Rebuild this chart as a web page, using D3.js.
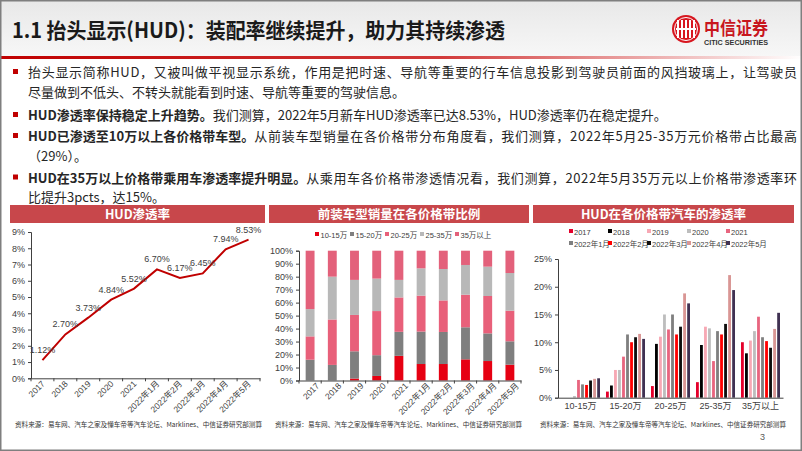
<!DOCTYPE html>
<html><head><meta charset="utf-8">
<script src="https://cdn.jsdelivr.net/npm/d3@7"></script>
<style>body{margin:0;background:#fff}svg{display:block}</style>
</head><body>
<svg id="c" width="802" height="451"></svg>
<script>
// ---------- data ----------
const periods = ["2017","2018","2019","2020","2021","2022年1月","2022年2月","2022年3月","2022年4月","2022年5月"];
const hudRate = [1.12,2.70,3.73,4.84,5.52,6.70,6.17,6.45,7.94,8.53];
const rateTicks = [0,1,2,3,4,5,6,7,8,9];

const bandKeys = ["10-15万","15-20万","20-25万","25-35万","35万以上"];
const share1015 = [0,0,1.5,3.5,19,12.7,12.7,16.3,15,12.2];
const share1520 = [16,12,21,16,18.5,25,24.7,24.7,21.3,18];
const share2025 = [18,35,28,34,26.5,27.7,24.3,25.1,28.8,23.6];
const share2535 = [21,33,27,25,13.5,21,24.2,22.9,22.6,29];
const share35p  = [45,20,22.5,21.5,22.5,13.6,14.1,11,12.3,17.2];
const shareTicks = [0,10,20,30,40,50,60,70,80,90,100];

// penetration by price band (rows: period, columns: price band)
const pen2017 = [0,1.1,2.1,2.8,10.0];
const pen2018 = [0,2.2,9.7,9.5,8.0];
const pen2019 = [0,5.0,11.0,12.8,10.3];
const pen2020 = [0.3,5.0,15.0,12.5,12.0];
const pen2021 = [3.2,7.4,12.3,6.6,14.6];
const pen2201 = [2.4,11.4,15.0,12.0,10.9];
const pen2202 = [2.3,10.0,11.4,11.4,10.2];
const pen2203 = [3.1,10.9,12.8,13.3,9.0];
const pen2204 = [3.4,11.5,18.8,22.1,12.4];
const pen2205 = [3.5,10.6,17.0,19.4,15.3];
const penTicks = [0,5,10,15,20,25];

// ---------- setup ----------
const svg = d3.select("#c");
const FONT = "'Liberation Sans','Noto Sans CJK SC',sans-serif";
const CJK = "'Noto Sans CJK SC','Liberation Sans',sans-serif";
const defs = svg.append("defs");

const hg = defs.append("linearGradient").attr("id","hg").attr("x1",0).attr("y1",0).attr("x2",0).attr("y2",1);
hg.append("stop").attr("offset",0).attr("stop-color","#e8e8e8");
hg.append("stop").attr("offset",1).attr("stop-color","#f7f7f7");
const rg = defs.append("linearGradient").attr("id","rg").attr("x1",0).attr("y1",0).attr("x2",1).attr("y2",0);
rg.append("stop").attr("offset",0).attr("stop-color","#c00000");
rg.append("stop").attr("offset",0.55).attr("stop-color","#d23a3a");
rg.append("stop").attr("offset",1).attr("stop-color","#ffffff");

// header
svg.append("rect").attr("x",0).attr("y",0).attr("width",802).attr("height",57).attr("fill","url(#hg)");
svg.append("rect").attr("x",0).attr("y",56).attr("width",802).attr("height",3).attr("fill","url(#rg)");
svg.append("text").attr("x",12).attr("y",38).attr("font-family",CJK).attr("font-weight",700)
  .attr("font-size",21).attr("fill","#1a1a1a").attr("textLength",493).attr("lengthAdjust","spacingAndGlyphs")
  .text("1.1 抬头显示(HUD)：装配率继续提升，助力其持续渗透");

// logo
const lg = svg.append("g");
lg.append("circle").attr("cx",686).attr("cy",29).attr("r",14).attr("fill","#d7161f");
[-8,-4,0,4,8].forEach(dx=>{
  lg.append("rect").attr("x",686+dx-1).attr("y",20).attr("width",2).attr("height",18).attr("fill","#fff");
});
lg.append("rect").attr("x",676).attr("y",28).attr("width",20).attr("height",2).attr("fill","#fff");
lg.append("circle").attr("cx",686).attr("cy",29).attr("r",11.5).attr("fill","none").attr("stroke","#fff").attr("stroke-width",1);
lg.append("text").attr("x",704).attr("y",35).attr("font-family",CJK).attr("font-weight",700).attr("font-size",18)
  .attr("fill","#c8161d").attr("textLength",64).attr("lengthAdjust","spacingAndGlyphs").text("中信证券");
lg.append("text").attr("x",704).attr("y",45).attr("font-family",FONT).attr("font-weight",700).attr("font-size",7)
  .attr("fill","#333").attr("textLength",64).attr("lengthAdjust","spacingAndGlyphs").text("CITIC SECURITIES");

// ---------- body text ----------
const bodyLines = [
  {y:77, bullet:true, b:"", t:"抬头显示简称HUD，又被叫做平视显示系统，作用是把时速、导航等重要的行车信息投影到驾驶员前面的风挡玻璃上，让驾驶员", w:769},
  {y:97, bullet:false, b:"", t:"尽量做到不低头、不转头就能看到时速、导航等重要的驾驶信息。"},
  {y:120, bullet:true, b:"HUD渗透率保持稳定上升趋势。", t:"我们测算，2022年5月新车HUD渗透率已达8.53%，HUD渗透率仍在稳定提升。"},
  {y:141, bullet:true, b:"HUD已渗透至10万以上各价格带车型。", t:"从前装车型销量在各价格带分布角度看，我们测算，2022年5月25-35万元价格带占比最高", w:769},
  {y:161, bullet:false, b:"", t:"（29%）。"},
  {y:182.5, bullet:true, b:"HUD在35万以上价格带乘用车渗透率提升明显。", t:"从乘用车各价格带渗透情况看，我们测算，2022年5月35万元以上价格带渗透率环", w:769},
  {y:201.5, bullet:false, b:"", t:"比提升3pcts，达15%。"}
];
bodyLines.forEach(l=>{
  if(l.bullet) svg.append("rect").attr("x",13).attr("y",l.y-8).attr("width",5).attr("height",5).attr("fill","#c00000");
  let x = 28;
  if(l.b){
    const tb = svg.append("text").attr("x",x).attr("y",l.y).attr("font-family",CJK).attr("font-size",13)
      .attr("font-weight",700).attr("fill","#262626").text(l.b);
    x += tb.node().getComputedTextLength();
  }
  const t = svg.append("text").attr("x",x).attr("y",l.y).attr("font-family",CJK).attr("font-size",13).attr("fill","#262626").text(l.t);
  if(l.w) t.attr("textLength",28+l.w-x).attr("lengthAdjust","spacing");
});

// ---------- chart title bars ----------
const titles = [
  {x0:10,x1:265,t:"HUD渗透率"},
  {x0:269,x1:529,t:"前装车型销量在各价格带比例"},
  {x0:533,x1:794,t:"HUD在各价格带汽车的渗透率"}
];
titles.forEach(d=>{
  svg.append("rect").attr("x",d.x0).attr("y",205).attr("width",d.x1-d.x0).attr("height",18).attr("fill","#c8474b");
  svg.append("text").attr("x",(d.x0+d.x1)/2).attr("y",218.5).attr("text-anchor","middle").attr("font-family",CJK)
    .attr("font-weight",700).attr("font-size",12.5).attr("fill","#fff").text(d.t);
});

function styleAxis(g){
  g.selectAll(".domain").attr("stroke","#404040");
  g.selectAll(".tick line").attr("stroke","#404040");
  g.selectAll("text").attr("font-family",FONT).attr("font-size",9).attr("fill","#404040");
}
function rotatedLabels(scale, y){
  const g = svg.append("g");
  scale.domain().forEach(d=>{
    g.append("text").attr("transform",`translate(${scale(d)+scale.step()/2+3},${y+6}) rotate(-45)`)
      .attr("text-anchor","end").attr("font-family",FONT).attr("font-size",8.5).attr("fill","#404040").text(d);
  });
}
function bandTicks(scale, y){
  const pos = scale.domain().map(d=>scale(d)-scale.step()*scale.paddingInner()/2);
  pos.push(scale.range()[1]);
  svg.append("g").selectAll("line").data(pos).join("line")
    .attr("x1",d=>d).attr("x2",d=>d).attr("y1",y).attr("y2",y+3).attr("stroke","#404040");
}

// ---------- chart 1: HUD penetration line ----------
{
  const x = d3.scaleBand().domain(periods).range([31,260]);
  const y = d3.scaleLinear().domain([0,9]).range([378.3,232]);
  const ga = svg.append("g").attr("transform","translate(31,0)")
    .call(d3.axisLeft(y).tickValues(rateTicks).tickFormat(d=>d+"%").tickSizeOuter(0).tickSize(3));
  styleAxis(ga);
  const gb = svg.append("g").attr("transform","translate(0,378.3)").call(d3.axisBottom(x).tickSize(0).tickFormat(""));
  styleAxis(gb);
  bandTicks(x,378.3);
  rotatedLabels(x,378.3);
  const pts = periods.map((p,i)=>({x:x(p)+x.bandwidth()/2, y:y(hudRate[i]), v:hudRate[i]}));
  svg.append("path").datum(pts).attr("fill","none").attr("stroke","#c00000").attr("stroke-width",2)
    .attr("d",d3.line().x(d=>d.x).y(d=>d.y));
  svg.append("g").selectAll("text").data(pts).join("text")
    .attr("x",d=>d.x).attr("y",d=>d.y-7).attr("text-anchor","middle").attr("font-family",FONT)
    .attr("font-size",9).attr("fill","#404040").text(d=>d.v.toFixed(2)+"%");
}

// ---------- chart 2: stacked share ----------
{
  const colors = ["#e60012","#7f7f7f","#e8607a","#b8b8b8","#e3617b"];
  const rows = periods.map((p,i)=>({p, "10-15万":share1015[i],"15-20万":share1520[i],"20-25万":share2025[i],"25-35万":share2535[i],"35万以上":share35p[i]}));
  const series = d3.stack().keys(bandKeys)(rows);
  const x = d3.scaleBand().domain(periods).range([299,521]).paddingInner(0.6).paddingOuter(0.3);
  const y = d3.scaleLinear().domain([0,100]).range([380.5,250.7]);
  svg.append("g").selectAll("g").data(series).join("g").attr("fill",(d,i)=>colors[i])
    .selectAll("rect").data(d=>d).join("rect")
    .attr("x",d=>x(d.data.p)).attr("width",x.bandwidth())
    .attr("y",d=>y(d[1])).attr("height",d=>y(d[0])-y(d[1]));
  const ga = svg.append("g").attr("transform","translate(299,0)")
    .call(d3.axisLeft(y).tickValues(shareTicks).tickFormat(d=>d+"%").tickSizeOuter(0).tickSize(3));
  styleAxis(ga);
  const gb = svg.append("g").attr("transform","translate(0,380.5)").call(d3.axisBottom(x).tickSize(0).tickFormat(""));
  styleAxis(gb);
  bandTicks(x,380.5);
  rotatedLabels(x,380.5);
  const lx = [315,350,385,420,455];
  bandKeys.forEach((k,i)=>{
    svg.append("rect").attr("x",lx[i]).attr("y",232).attr("width",4).attr("height",4).attr("fill",colors[i]);
    svg.append("text").attr("x",lx[i]+5.5).attr("y",237.5).attr("font-family",FONT).attr("font-size",7.5)
      .attr("fill","#404040").text(k);
  });
}

// ---------- chart 3: grouped penetration ----------
{
  const pens = [pen2017,pen2018,pen2019,pen2020,pen2021,pen2201,pen2202,pen2203,pen2204,pen2205];
  const colors = ["#e4002b","#000000","#f7a8b4","#bdbdbd","#e8657f","#7f7f7f","#ff0000","#0d0d0d","#d99694","#403152"];
  const x0 = d3.scaleBand().domain(bandKeys).range([558,783]);
  const x1 = d3.scaleBand().domain(periods).range([3,42]).paddingInner(0.3);
  const y = d3.scaleLinear().domain([0,25]).range([397.7,259]);
  const cells = [];
  bandKeys.forEach((b,j)=>periods.forEach((p,i)=>cells.push({b,p,i,v:pens[i][j]})));
  svg.append("g").selectAll("rect").data(cells).join("rect")
    .attr("x",d=>x0(d.b)+x1(d.p)).attr("width",x1.bandwidth())
    .attr("y",d=>y(d.v)).attr("height",d=>y(0)-y(d.v)).attr("fill",d=>colors[d.i]);
  const ga = svg.append("g").attr("transform","translate(558,0)")
    .call(d3.axisLeft(y).tickValues(penTicks).tickFormat(d=>d+"%").tickSizeOuter(0).tickSize(3));
  styleAxis(ga);
  const gb = svg.append("g").attr("transform","translate(0,397.7)").call(d3.axisBottom(x0).tickSize(0).tickPadding(5));
  styleAxis(gb);
  const lx = [569,608,647,687,726];
  periods.forEach((p,i)=>{
    const cx = lx[i%5], cy = i<5?232:244;
    svg.append("rect").attr("x",cx).attr("y",cy-3).attr("width",4).attr("height",4).attr("fill",colors[i]);
    svg.append("text").attr("x",cx+5).attr("y",cy+2.5).attr("font-family",FONT).attr("font-size",7.5)
      .attr("fill","#404040").text(p);
  });
}

// ---------- footers ----------
const src = "资料来源：易车网、汽车之家及懂车帝等汽车论坛、Marklines、中信证券研究部测算";
[[15,247],[275,247],[540,246]].forEach(([x,w])=>{
  svg.append("text").attr("x",x).attr("y",427).attr("font-family",CJK).attr("font-size",6.6)
    .attr("fill","#333").attr("textLength",w).attr("lengthAdjust","spacingAndGlyphs").text(src);
});
svg.append("text").attr("x",760).attr("y",440).attr("font-family",FONT).attr("font-size",9).attr("fill","#595959").text("3");

// slide border
svg.append("rect").attr("x",0.75).attr("y",0.75).attr("width",800.5).attr("height",449.5)
  .attr("fill","none").attr("stroke","#7f7f7f").attr("stroke-width",1.5);
</script>
</body></html>
